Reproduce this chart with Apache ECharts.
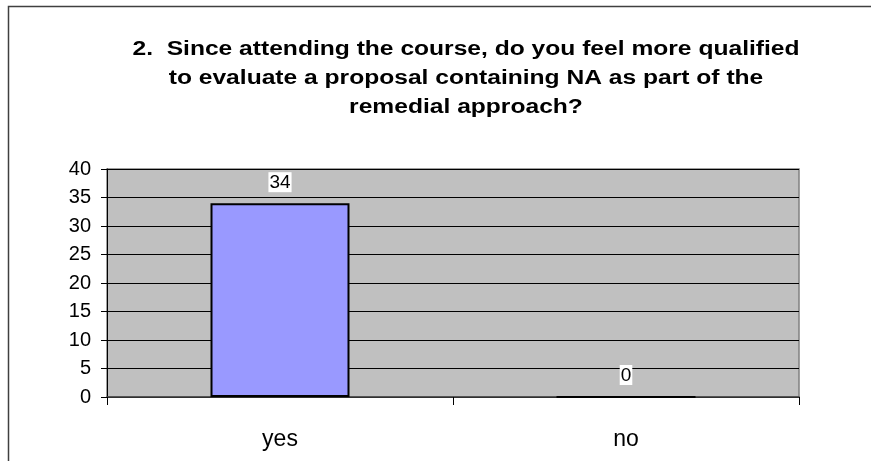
<!DOCTYPE html>
<html>
<head>
<meta charset="utf-8">
<script src="https://cdn.jsdelivr.net/npm/echarts@6/dist/echarts.min.js"></script>
<style>
  html, body { margin: 0; padding: 0; background: #fff; }
  #chart { width: 871px; height: 461px; }
</style>
</head>
<body>
<div id="chart"></div>
<script>
// data
const categories = ['yes', 'no']
const answers = [34, 0]
const yTicks = { min: 0, max: 40, interval: 5 }
const titleLines = [
  '2.  Since attending the course, do you feel more qualified',
  'to evaluate a proposal containing NA as part of the',
  'remedial approach?'
]

const myChart = echarts.init(document.getElementById('chart'))
myChart.setOption({
  animation: false,
  backgroundColor: '#fff',
  textStyle: { fontFamily: 'Arial, "Liberation Sans", sans-serif' },
  graphic: [{
    type: 'rect',
    shape: { x: 8.5, y: 6.5, width: 880, height: 480 },
    style: { fill: 'none', stroke: '#404040', lineWidth: 1.5 },
    silent: true
  }, {
    // the original title is stretched sideways
    type: 'text',
    x: 466,
    y: 35,
    scaleX: 1.23,
    style: {
      text: titleLines.join('\n'),
      textAlign: 'center',
      fontFamily: 'Arial, "Liberation Sans", sans-serif',
      fontWeight: 'bold',
      fontSize: 20,
      lineHeight: 29,
      fill: '#000'
    }
  }],
  grid: [{
    left: 107,
    top: 169,
    right: 72,
    bottom: 64,
    show: true,
    backgroundColor: '#c0c0c0',
    borderColor: '#808080',
    borderWidth: 1.5
  }],
  xAxis: [{
    type: 'category',
    data: categories,
    axisLine: { lineStyle: { color: '#404040', width: 1.5 } },
    axisTick: { show: true, length: 8, lineStyle: { color: '#000' } },
    axisLabel: { color: '#000', fontSize: 23, margin: 31 },
    splitLine: { show: false }
  }],
  yAxis: [{
    type: 'value',
    min: yTicks.min,
    max: yTicks.max,
    interval: yTicks.interval,
    axisLine: { show: true, lineStyle: { color: '#000', width: 1 } },
    axisTick: { show: true, length: 6, lineStyle: { color: '#000' } },
    axisLabel: { color: '#000', fontSize: 20, margin: 16 },
    splitLine: { show: true, lineStyle: { color: '#000', width: 1 } }
  }],
  series: [{
    type: 'bar',
    data: answers,
    barWidth: 139,
    itemStyle: { color: '#9999ff', borderColor: '#000', borderWidth: 2 },
    label: {
      show: true,
      position: 'top',
      distance: 11,
      color: '#000',
      fontSize: 19,
      backgroundColor: '#fff',
      padding: [1, 1, 0, 1]
    }
  }]
})
</script>
</body>
</html>
